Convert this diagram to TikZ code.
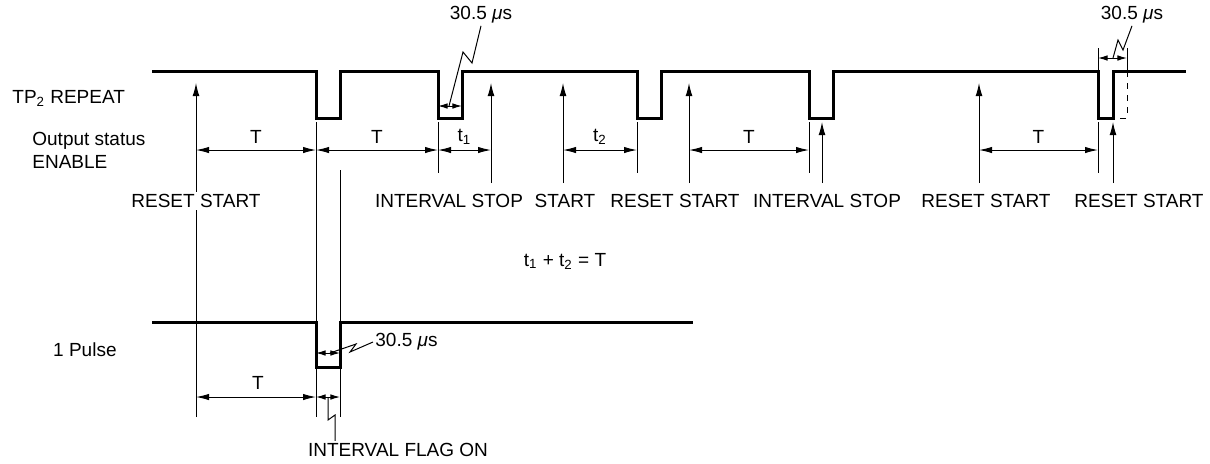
\documentclass[tikz,border=0pt]{standalone}
\usepackage{fontspec}
\setmainfont{Liberation Sans}
\usetikzlibrary{arrows.meta}
\begin{document}
\begin{tikzpicture}
  [x=0.5pt,y=-0.5pt,every node/.style={font=\fontsize{9.5}{11.5}\selectfont,inner sep=1pt}]
  \tikzstyle{wave} = [line width=1.5pt]
  \tikzstyle{fine} = [line width=0.5pt]
  \tikzstyle{event} = [fine,-{Latex[length=6.5pt,width=3.4pt]}]
  \tikzstyle{dim} = [fine,{Latex[length=6.5pt,width=3.2pt]}-{Latex[length=6.5pt,width=3.2pt]}]
  \tikzstyle{smalldim} = [fine,{Latex[length=4.8pt,width=2.8pt]}-{Latex[length=4.8pt,width=2.8pt]}]
  \useasboundingbox (0,0) rectangle (1210,463);

  % signals
  \draw[wave] (152,71) -- (316,71) -- (316,118) -- (340,118) -- (340,71)
    -- (438,71) -- (438,118) -- (462,118) -- (462,71)
    -- (637,71) -- (637,118) -- (661,118) -- (661,71)
    -- (809,71) -- (809,118) -- (833,118) -- (833,71)
    -- (1098,71) -- (1098,118) -- (1113,118) -- (1113,71) -- (1186,71);
  \draw[wave] (152,322) -- (316,322) -- (316,367) -- (340,367) -- (340,322) -- (693,322);

  \node[anchor=west] (tp) at (10,98) {TP\textsubscript{2} REPEAT};
  \node[anchor=west,align=left] (status) at (30,150.5) {Output status\\ENABLE};
  \node[anchor=east] (pulse) at (119,350) {1 Pulse};

  % extension lines
  \draw[fine] (316,122) -- (316,417);
  \draw[fine] (340,170) -- (340,417);
  \foreach \x in {438,637,809,1098}
    \draw[fine] (\x,122) -- (\x,173);
  \draw[fine] (1098,48) -- (1098,71);
  \draw[fine] (1127,48) -- (1127,71);
  \draw[fine,dashed] (1127,71) -- (1127,118) -- (1113,118);

  % events
  \draw[event] (196,417) -- (196,83);
  \foreach \x/\y in {491/83,563/83,689/83,822/122,979/83,1113/122}
    \draw[event] (\x,183) -- (\x,\y);
  \foreach \x/\txt [count=\i] in {196/RESET START,449/INTERVAL STOP,565/START,675/RESET START,
      827/INTERVAL STOP,986/RESET START,1139/RESET START}
    \node[fill=white] (ev\i) at (\x,201) {\txt};

  % periods
  \foreach \a/\b/\txt in {196/316/T,316/438/T,438/491/t\textsubscript{1},563/637/t\textsubscript{2},
      689/809/T,979/1098/T}
  {
    \draw[dim] (\a,150) -- (\b,150);
    \node at ({(\a+\b)/2},137) {\txt};
  }
  \draw[dim] (196,397) -- (316,397);
  \node (tb) at (258,383) {T};
  \node (sum) at (565,261) {t\textsubscript{1} + t\textsubscript{2} = T};

  % 30.5 us marks
  \draw[smalldim] (438,106) -- (462,106);
  \draw[smalldim] (1098,58) -- (1127,58);
  \draw[smalldim] (316,353) -- (340,353);
  \draw[smalldim] (316,397) -- (340,397);
  \node (w1) at (481,15) {30.5 \textit{μ}s};
  \node (w2) at (1132,15) {30.5 \textit{μ}s};
  \node[anchor=west] (w3) at (373,342) {30.5 \textit{μ}s};
  \node (flag) at (398,450) {INTERVAL FLAG ON};
  \draw[fine] (449,106) -- (463,52) -- (472,63) -- (w1.south);
  \draw[fine] (1113,58) -- (1118,40) -- (1123,50) -- (w2.south);
  \draw[fine] (330,353) -- (356,344) -- (350,352) -- (w3.west);
  \draw[fine] (328,397) -- (328,420) -- (335,415) -- (flag.north -| 335,0);

\end{tikzpicture}
\end{document}
